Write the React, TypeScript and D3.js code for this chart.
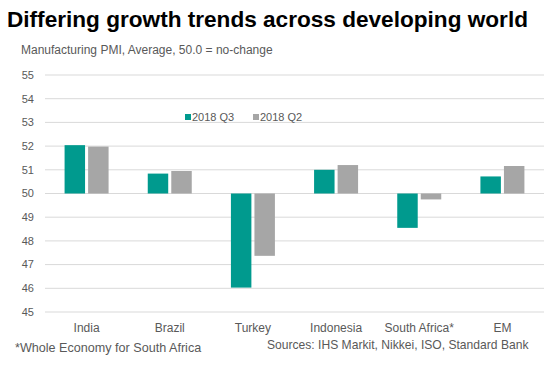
import React from "react";
import * as d3 from "d3";

const categories = ["India", "Brazil", "Turkey", "Indonesia", "South Africa*", "EM"];
const q3Values = [52.04, 50.84, 46.03, 51.0, 48.55, 50.72];
const q2Values = [51.98, 50.95, 47.37, 51.2, 49.75, 51.16];
const seriesNames = ["2018 Q3", "2018 Q2"];
const yTicks = [45, 46, 47, 48, 49, 50, 51, 52, 53, 54, 55];

const W = 555;
const H = 381;
const TEAL = "#009a8e";
const GREY = "#a6a6a6";
const FONT = "'Liberation Sans', Arial, sans-serif";

export default function App() {
  const y = d3.scaleLinear().domain([45, 55]).range([312, 75]);
  const x = d3.scaleBand<string>().domain(categories).range([45, 544]).paddingInner(0).paddingOuter(0);
  const inner = d3.scaleBand<string>().domain(seriesNames).range([x.bandwidth() / 2 - 22, x.bandwidth() / 2 + 22]).paddingInner(0.13);
  const series = [q3Values, q2Values];
  const colors = [TEAL, GREY];
  const base = y(50);

  return (
    <svg width={W} height={H} style={{ position: "absolute", left: 0, top: 0, background: "#fff" }} fontFamily={FONT}>
      <rect width={W} height={H} fill="#fff" />
      <text x={7} y={27} fontSize={22.6} fontWeight="bold" fill="#000">Differing growth trends across developing world</text>
      <text x={21} y={50} dy="0.35em" fontSize={12} fill="#595959">Manufacturing  PMI, Average,  50.0 = no-change</text>
      {yTicks.map((t) => (
        <g key={t}>
          <line x1={45} x2={544} y1={y(t)} y2={y(t)} stroke="#d9d9d9" strokeWidth={1} />
          <text x={34} y={y(t)} dy="0.35em" textAnchor="end" fontSize={11} fill="#595959">{t}</text>
        </g>
      ))}
      {categories.map((c, i) => (
        <g key={c} transform={`translate(${x(c)},0)`}>
          {series.map((vals, s) => {
            const v = vals[i];
            const top = Math.min(y(v), base);
            const h = Math.abs(y(v) - base);
            return (
              <rect key={s} x={inner(seriesNames[s])} y={top} width={inner.bandwidth()} height={h} fill={colors[s]} />
            );
          })}
        </g>
      ))}
      {categories.map((c) => (
        <text key={c} x={(x(c) as number) + x.bandwidth() / 2} y={328} dy="0.35em" textAnchor="middle" fontSize={12} fill="#595959">{c}</text>
      ))}
      <g>
        <rect x={185} y={114} width={6} height={6} fill={TEAL} />
        <text x={192} y={117} dy="0.35em" fontSize={11} fill="#595959">{seriesNames[0]}</text>
        <rect x={253} y={114} width={6} height={6} fill={GREY} />
        <text x={260} y={117} dy="0.35em" fontSize={11} fill="#595959">{seriesNames[1]}</text>
      </g>
      <text x={15} y={348} dy="0.35em" fontSize={12.6} fill="#595959">*Whole Economy for South Africa</text>
      <text x={267} y={345} dy="0.35em" fontSize={12.1} fill="#595959">Sources: IHS Markit, Nikkei, ISO, Standard Bank</text>
    </svg>
  );
}
